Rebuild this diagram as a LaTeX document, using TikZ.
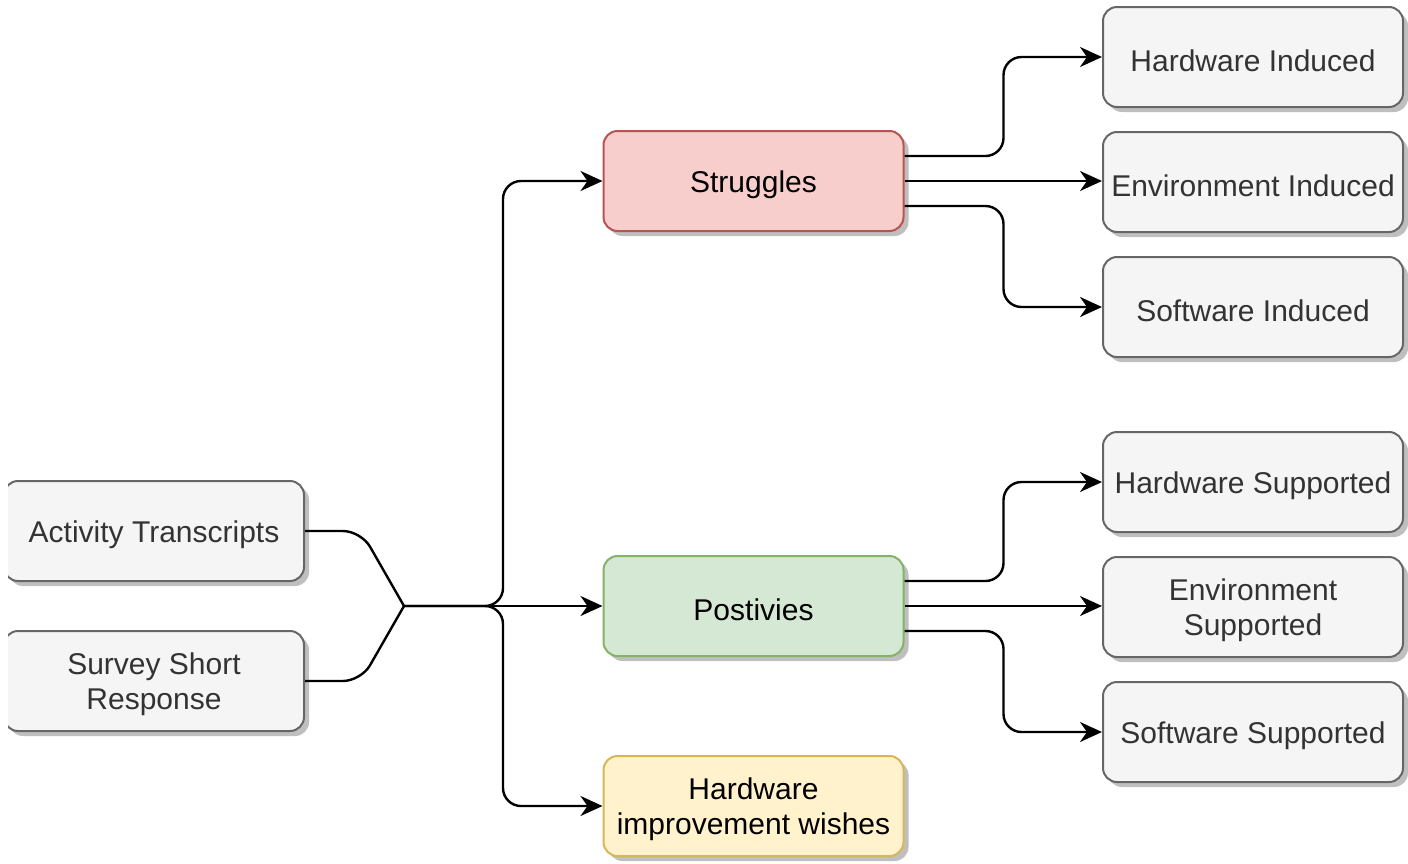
\documentclass[tikz,border=0pt]{standalone}
\usepackage{fontspec}
\setmainfont{Liberation Sans}
\usetikzlibrary{arrows.meta,calc,shadows}
\definecolor{gfill}{HTML}{F5F5F5}
\definecolor{gline}{HTML}{666666}
\definecolor{gtext}{HTML}{333333}
\definecolor{rfill}{HTML}{F8CECC}
\definecolor{rline}{HTML}{B85450}
\definecolor{grfill}{HTML}{D5E8D4}
\definecolor{grline}{HTML}{82B366}
\definecolor{yfill}{HTML}{FFF2CC}
\definecolor{yline}{HTML}{D6B656}
\tikzset{
  box/.style 2 args={draw, rounded corners=14pt, line width=2pt, minimum width=300pt, minimum height=100pt,
    inner sep=0pt,
    drop shadow={shadow xshift=5pt, shadow yshift=-5pt, fill=black, opacity=0.25},
    label={[boxtext, text=#2]center:#1}},
  boxtext/.style={align=center, font=\fontsize{30}{35}\selectfont, yshift=-3.5pt, inner sep=0pt},
  graybox/.style={box={#1}{gtext}, fill=gfill, draw=gline},
  redbox/.style={box={#1}{black}, fill=rfill, draw=rline},
  greenbox/.style={box={#1}{black}, fill=grfill, draw=grline},
  yellowbox/.style={box={#1}{black}, fill=yfill, draw=yline},
  conn/.style={line width=2.4pt, rounded corners=18pt},
  arr/.style={conn, -{Stealth[length=22pt,width=20pt,inset=7pt]}}
}
\begin{document}
\begin{tikzpicture}[x=1pt,y=-1pt]
\useasboundingbox (0,0) rectangle (1408,863);
\begin{scope}
\clip (8,0) rectangle (1408,863);
\node[graybox={Activity Transcripts}] (AT) at (154,531) {};
\node[graybox={Survey Short\\Response}] (SR) at (154,681) {};
\end{scope}
\node[redbox={Struggles}] (S) at (753.5,181) {};
\node[greenbox={Postivies}] (P) at (753.5,606) {};
\node[yellowbox={Hardware\\improvement wishes}] (W) at (753.5,806) {};
\node[graybox={Hardware Induced}] (HI) at (1253,57) {};
\node[graybox={Environment Induced}] (EI) at (1253,182) {};
\node[graybox={Software Induced}] (SI) at (1253,307) {};
\node[graybox={Hardware Supported}] (HS) at (1253,482) {};
\node[graybox={Environment\\Supported}] (ES) at (1253,607) {};
\node[graybox={Software Supported}] (SS) at (1253,732) {};
\coordinate (j) at (404,606);
\draw[conn] (AT.east) -- ++(56,0) -- (j);
\draw[conn] (SR.east) -- ++(56,0) -- (j);
\draw[arr] (j) -- (P.west);
\draw[arr] (j) -- ++(99,0) |- (S.west);
\draw[arr] (j) -- ++(99,0) |- (W.west);
\draw[arr] ($(S.east)+(0,-25)$) -- ++(99,0) |- (HI.west);
\draw[arr] (S.east) -- (EI.west |- S.east);
\draw[arr] ($(S.east)+(0,25)$) -- ++(99,0) |- (SI.west);
\draw[arr] ($(P.east)+(0,-25)$) -- ++(99,0) |- (HS.west);
\draw[arr] (P.east) -- (ES.west |- P.east);
\draw[arr] ($(P.east)+(0,25)$) -- ++(99,0) |- (SS.west);
\end{tikzpicture}
\end{document}
